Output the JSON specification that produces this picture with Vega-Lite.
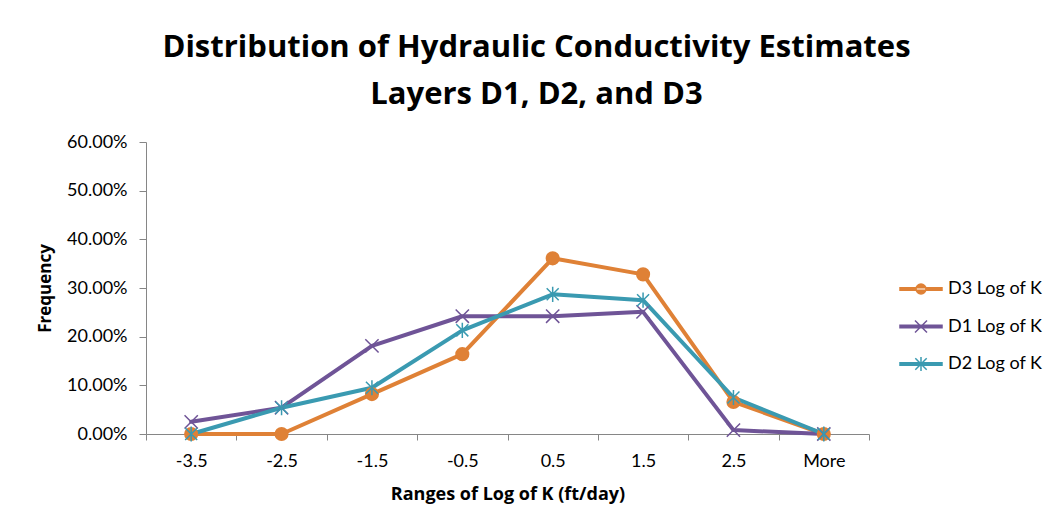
{
  "$schema": "https://vega.github.io/schema/vega-lite/v6.json",
  "width": 723,
  "height": 292,
  "autosize": {"type": "none"},
  "padding": {"left": 146, "top": 142, "right": 185, "bottom": 91},
  "background": "white",
  "title": {
    "text": ["Distribution of Hydraulic Conductivity Estimates", "Layers D1, D2, and D3"],
    "font": "Open Sans",
    "fontSize": 31,
    "fontWeight": "bold",
    "color": "#000000",
    "anchor": "middle",
    "frame": "group",
    "dx": 29,
    "lineHeight": 47,
    "offset": 22
  },
  "config": {
    "view": {"stroke": null},
    "axis": {
      "domainColor": "#868686",
      "tickColor": "#868686",
      "labelColor": "#000000",
      "titleColor": "#000000",
      "labelFont": "Lato",
      "titleFont": "Open Sans",
      "grid": false
    },
    "legend": {"labelFont": "Lato", "labelFontSize": 18, "labelColor": "#000000"}
  },
  "data": {
    "values": [
      {"category": "-3.5", "series": "D3 Log of K", "value": 0},
      {"category": "-2.5", "series": "D3 Log of K", "value": 0},
      {"category": "-1.5", "series": "D3 Log of K", "value": 0.082},
      {"category": "-0.5", "series": "D3 Log of K", "value": 0.164},
      {"category": "0.5", "series": "D3 Log of K", "value": 0.361},
      {"category": "1.5", "series": "D3 Log of K", "value": 0.328},
      {"category": "2.5", "series": "D3 Log of K", "value": 0.066},
      {"category": "More", "series": "D3 Log of K", "value": 0},
      {"category": "-3.5", "series": "D1 Log of K", "value": 0.025},
      {"category": "-2.5", "series": "D1 Log of K", "value": 0.054},
      {"category": "-1.5", "series": "D1 Log of K", "value": 0.181},
      {"category": "-0.5", "series": "D1 Log of K", "value": 0.242},
      {"category": "0.5", "series": "D1 Log of K", "value": 0.242},
      {"category": "1.5", "series": "D1 Log of K", "value": 0.251},
      {"category": "2.5", "series": "D1 Log of K", "value": 0.008},
      {"category": "More", "series": "D1 Log of K", "value": 0},
      {"category": "-3.5", "series": "D2 Log of K", "value": 0},
      {"category": "-2.5", "series": "D2 Log of K", "value": 0.054},
      {"category": "-1.5", "series": "D2 Log of K", "value": 0.095},
      {"category": "-0.5", "series": "D2 Log of K", "value": 0.213},
      {"category": "0.5", "series": "D2 Log of K", "value": 0.287},
      {"category": "1.5", "series": "D2 Log of K", "value": 0.275},
      {"category": "2.5", "series": "D2 Log of K", "value": 0.075},
      {"category": "More", "series": "D2 Log of K", "value": 0}
    ]
  },
  "encoding": {
    "x": {
      "field": "category",
      "type": "ordinal",
      "bandPosition": 0.5,
      "sort": ["-3.5", "-2.5", "-1.5", "-0.5", "0.5", "1.5", "2.5", "More"],
      "scale": {"type": "band", "paddingInner": 0, "paddingOuter": 0},
      "axis": {
        "title": "Ranges of Log of K (ft/day)",
        "titleFontSize": 18,
        "titleFontWeight": "bold",
        "titlePadding": 15,
        "labelAngle": 0,
        "labelFontSize": 18,
        "labelPadding": 12,
        "tickBand": "extent",
        "tickSize": 6
      }
    },
    "y": {
      "field": "value",
      "type": "quantitative",
      "scale": {"domain": [0, 0.6], "nice": false},
      "axis": {
        "title": "Frequency",
        "titleFontSize": 17,
        "titleFontWeight": "bold",
        "titlePadding": 12,
        "format": ".2%",
        "values": [0, 0.1, 0.2, 0.3, 0.4, 0.5, 0.6],
        "labelFontSize": 18,
        "labelPadding": 12,
        "tickSize": 7
      }
    }
  },
  "layer": [
    {
      "mark": {"type": "line", "strokeWidth": 4, "strokeJoin": "round", "strokeCap": "round"},
      "encoding": {
        "stroke": {
          "field": "series",
          "type": "nominal",
          "scale": {"domain": ["D3 Log of K", "D1 Log of K", "D2 Log of K"], "range": ["#DF8136", "#6F5497", "#3A9AB1"]},
          "legend": null
        }
      }
    },
    {
      "mark": {"type": "point", "filled": true, "size": 160, "strokeWidth": 1.5, "opacity": 1},
      "encoding": {
        "stroke": {
          "field": "series",
          "type": "nominal",
          "scale": {"domain": ["D3 Log of K", "D1 Log of K", "D2 Log of K"], "range": ["#DF8136", "#6F5497", "#3A9AB1"]},
          "legend": null
        },
        "fill": {
          "field": "series",
          "type": "nominal",
          "scale": {"domain": ["D3 Log of K", "D1 Log of K", "D2 Log of K"], "range": ["#DF8136", "transparent", "transparent"]},
          "legend": null
        },
        "shape": {
          "field": "series",
          "type": "nominal",
          "scale": {
            "domain": ["D3 Log of K", "D1 Log of K", "D2 Log of K"],
            "range": ["circle", "M-1.05,-1.05L1.05,1.05M-1.05,1.05L1.05,-1.05", "M-0.95,-0.95L0.95,0.95M-0.95,0.95L0.95,-0.95M0,-1.2L0,1.2"]
          },
          "legend": null
        }
      }
    },
    {
      "mark": {"type": "point", "filled": true, "opacity": 0, "size": 10},
      "encoding": {
        "stroke": {
          "field": "series",
          "type": "nominal",
          "scale": {"domain": ["D3 Log of K", "D1 Log of K", "D2 Log of K"], "range": ["#DF8136", "#6F5497", "#3A9AB1"]},
          "legend": {"title": null, "orient": "none", "legendX": 759, "legendY": 131, "symbolSize": 900, "symbolStrokeWidth": 1.5, "symbolOpacity": 1, "labelOffset": 11, "rowPadding": 12.5, "padding": 0}
        },
        "fill": {
          "field": "series",
          "type": "nominal",
          "scale": {"domain": ["D3 Log of K", "D1 Log of K", "D2 Log of K"], "range": ["#DF8136", "#6F5497", "#3A9AB1"]},
          "legend": {"title": null, "orient": "none", "legendX": 759, "legendY": 131, "symbolSize": 900, "symbolStrokeWidth": 1.5, "symbolOpacity": 1, "labelOffset": 11, "rowPadding": 12.5, "padding": 0}
        },
        "shape": {
          "field": "series",
          "type": "nominal",
          "scale": {
            "domain": ["D3 Log of K", "D1 Log of K", "D2 Log of K"],
            "range": [
              "M-1.4,-0.08H1.4V0.08H-1.4ZM-0.33,0A0.33,0.33 0 1,0 0.33,0A0.33,0.33 0 1,0 -0.33,0Z",
              "M-1.4,-0.08H1.4V0.08H-1.4ZM-0.4,-0.4L0.4,0.4M-0.4,0.4L0.4,-0.4",
              "M-1.4,-0.08H1.4V0.08H-1.4ZM-0.38,-0.38L0.38,0.38M-0.38,0.38L0.38,-0.38M0,-0.47L0,0.47"
            ]
          },
          "legend": {"title": null, "orient": "none", "legendX": 759, "legendY": 131, "symbolSize": 900, "symbolStrokeWidth": 1.5, "symbolOpacity": 1, "labelOffset": 11, "rowPadding": 12.5, "padding": 0}
        }
      }
    }
  ],
  "resolve": {
    "scale": {"stroke": "independent", "fill": "independent", "shape": "independent"},
    "legend": {"stroke": "independent", "fill": "independent", "shape": "independent"}
  }
}
